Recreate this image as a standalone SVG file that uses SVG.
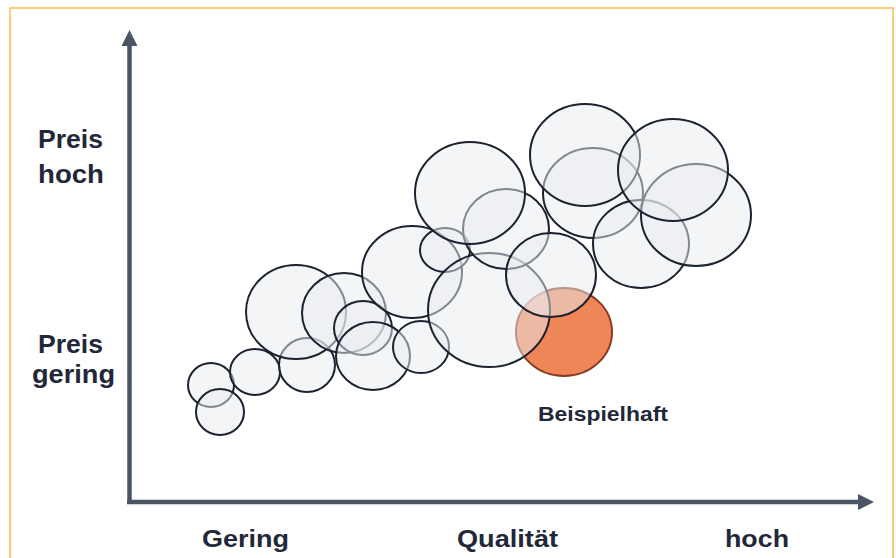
<svg xmlns="http://www.w3.org/2000/svg" width="896" height="558" viewBox="0 0 896 558">
<defs>
<style>
.b{fill:#e9ebf0;fill-opacity:0.5;stroke:#1c2230;stroke-width:2}
.o{fill:#ee8658;stroke:#8a3a22;stroke-width:2}
.t{font-family:"Liberation Sans",Arial,sans-serif;font-weight:bold;fill:#222839}
.ax{stroke:#4b5566;stroke-width:4.5;fill:none}
</style>
<marker id="ah" viewBox="0 0 16 16" refX="2" refY="8" markerWidth="16" markerHeight="16" markerUnits="userSpaceOnUse" orient="auto">
<path d="M0,0 L16,8 L0,16 Z" fill="#4b5566"/>
</marker>
</defs>
<rect x="0" y="0" width="896" height="558" fill="#ffffff"/>
<rect x="10" y="8" width="883" height="560" fill="none" stroke="#f3c04a" stroke-width="1.5"/>
<g id="connectors">
<path class="ax" d="M129.5,502 L129.5,44" marker-end="url(#ah)"/>
<path class="ax" d="M127,502 L860,502" marker-end="url(#ah)"/>
</g>
<g id="beispielhaft"><ellipse class="o" cx="564" cy="332" rx="48" ry="44"/></g>
<g id="c1"><ellipse class="b" cx="211" cy="385" rx="23" ry="22"/></g>
<g id="c2"><ellipse class="b" cx="220" cy="412" rx="24" ry="23"/></g>
<g id="c3"><ellipse class="b" cx="255" cy="372" rx="25" ry="23"/></g>
<g id="c4"><ellipse class="b" cx="307" cy="365" rx="28" ry="27"/></g>
<g id="c5"><ellipse class="b" cx="296" cy="312" rx="50" ry="47"/></g>
<g id="c6"><ellipse class="b" cx="344" cy="313" rx="42" ry="40"/></g>
<g id="c7"><ellipse class="b" cx="363" cy="328" rx="29" ry="27"/></g>
<g id="c8"><ellipse class="b" cx="373" cy="356" rx="37" ry="34"/></g>
<g id="c9"><ellipse class="b" cx="421" cy="347" rx="28" ry="26"/></g>
<g id="c10"><ellipse class="b" cx="412" cy="272" rx="50" ry="46"/></g>
<g id="c11"><ellipse class="b" cx="445" cy="250" rx="25" ry="22"/></g>
<g id="c12"><ellipse class="b" cx="489" cy="310" rx="61" ry="57"/></g>
<g id="c13"><ellipse class="b" cx="506" cy="229" rx="43" ry="40"/></g>
<g id="c14"><ellipse class="b" cx="470" cy="193" rx="55" ry="51"/></g>
<g id="c15"><ellipse class="b" cx="551" cy="275" rx="45" ry="42"/></g>
<g id="c16"><ellipse class="b" cx="593" cy="193" rx="50" ry="45"/></g>
<g id="c17"><ellipse class="b" cx="585" cy="155" rx="55" ry="51"/></g>
<g id="c18"><ellipse class="b" cx="641" cy="244" rx="48" ry="44"/></g>
<g id="c19"><ellipse class="b" cx="696" cy="215" rx="55" ry="51"/></g>
<g id="c20"><ellipse class="b" cx="673" cy="170" rx="55" ry="51"/></g>
<g id="labels">
<text class="t" x="38" y="148" font-size="25" textLength="65" lengthAdjust="spacingAndGlyphs">Preis</text>
<text class="t" x="38" y="183" font-size="25" textLength="66" lengthAdjust="spacingAndGlyphs">hoch</text>
<text class="t" x="38" y="353" font-size="25" textLength="65" lengthAdjust="spacingAndGlyphs">Preis</text>
<text class="t" x="32" y="383" font-size="25" textLength="83" lengthAdjust="spacingAndGlyphs">gering</text>
<text class="t" x="538" y="421" font-size="21" textLength="130" lengthAdjust="spacingAndGlyphs">Beispielhaft</text>
<text class="t" x="202" y="547" font-size="24" textLength="87" lengthAdjust="spacingAndGlyphs">Gering</text>
<text class="t" x="457" y="547" font-size="24" textLength="101" lengthAdjust="spacingAndGlyphs">Qualität</text>
<text class="t" x="725" y="547" font-size="24" textLength="64" lengthAdjust="spacingAndGlyphs">hoch</text>
</g>
</svg>
